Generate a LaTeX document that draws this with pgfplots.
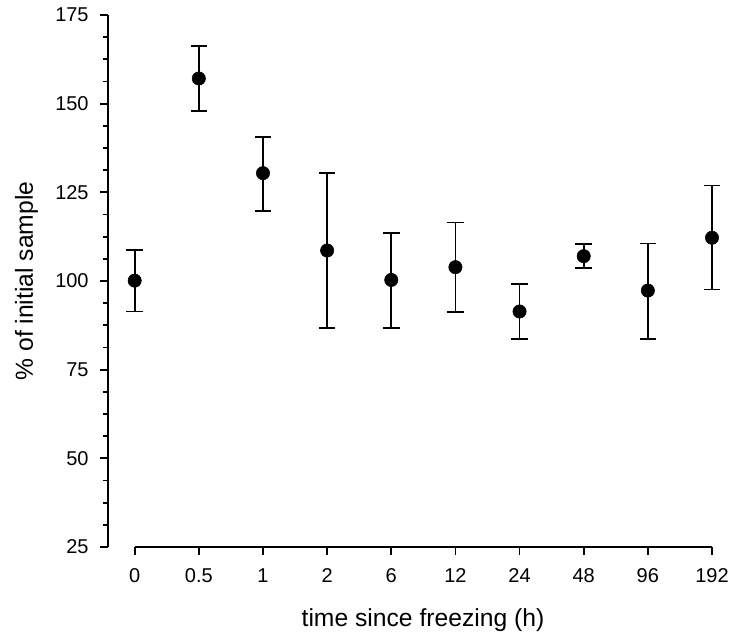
\documentclass[border=0pt]{standalone}
\usepackage{fontspec}
\setmainfont{Liberation Sans}
\usepackage{pgfplots}
\pgfplotsset{compat=1.18}
\begin{document}
\begin{tikzpicture}
\useasboundingbox (-81pt,-68.25pt) rectangle (468pt,410.25pt);
\begin{axis}[
  at={(0,0)}, anchor=south west,
  scale only axis, width=453pt, height=399pt,
  xmin=-0.416, xmax=9, ymin=25, ymax=175,
  axis x line*=bottom, axis y line*=left,
  x axis line style={draw=none},
  y axis line style={line width=1.3pt, black},
  xtick={0,...,9},
  xticklabels={0,0.5,1,2,6,12,24,48,96,192},
  ytick={25,50,...,175},
  minor y tick num=3,
  tick align=outside,
  major tick length=6pt, minor tick length=3.5pt,
  tick style={line width=1.3pt, black},
  /pgf/number format/assume math mode=true,
  tick label style={font=\fontsize{15}{18}\selectfont},
  yticklabel style={xshift=-5pt},
  xticklabel style={yshift=-6.75pt},
  xlabel={time since freezing (h)},
  ylabel={\% of initial sample},
  x label style={at={(axis description cs:0.5215,-0.137)}, anchor=center, inner sep=0pt, font=\fontsize{18.5}{22}\selectfont},
  y label style={at={(axis description cs:-0.135,0.5)}, anchor=center, inner sep=0pt, font=\fontsize{18.5}{22}\selectfont},
  clip=false,
]
\draw[line width=1.3pt, black] (axis cs:0,25) -- (axis cs:9,25);
\addplot[only marks, mark=*, mark size=5pt, black,
  error bars/.cd, y dir=both, y explicit,
  error bar style={line width=1.3pt, black},
  error mark options={rotate=90, mark size=6.2pt, line width=1.3pt, black}]
  table[x=x, y=y, y error plus=ep, y error minus=em] {
x y ep em
0 100.1 8.6 8.7
1 157.1 9.1 9.1
2 130.4 10.3 10.6
3 108.6 21.8 21.8
4 100.3 13.2 13.5
5 103.9 12.6 12.6
6 91.4 7.8 7.8
7 107.0 3.4 3.3
8 97.3 13.3 13.6
9 112.2 14.7 14.6
};
\end{axis}
\end{tikzpicture}
\end{document}
